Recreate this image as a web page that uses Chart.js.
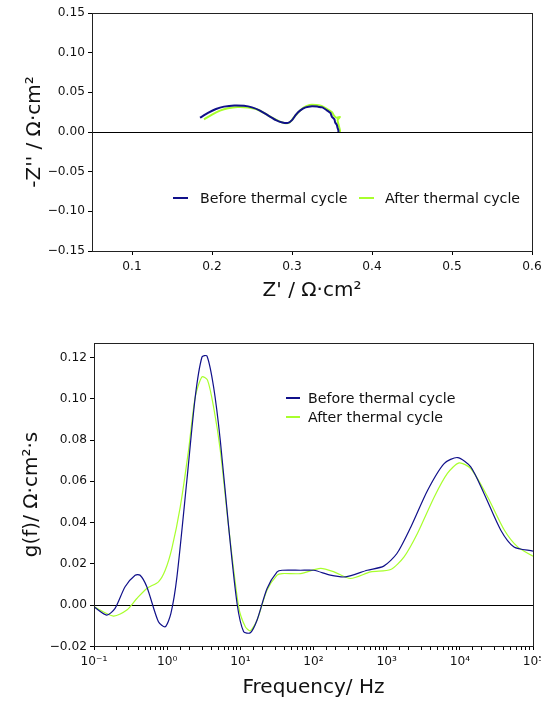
<!DOCTYPE html>
<html>
<head>
<meta charset="utf-8">
<script src="https://cdn.jsdelivr.net/npm/chart.js@4/dist/chart.umd.min.js"></script>
<style>
  html, body { margin: 0; padding: 0; background: #fff; }
  #wrap { position: relative; width: 541px; height: 702px; font-family: "DejaVu Sans", sans-serif; }
  canvas { position: absolute; left: 0; }
  .leg { position: absolute; font-size: 14.2px; color: #111; white-space: nowrap; line-height: 16px; }
  .sw { position: absolute; }
</style>
</head>
<body>
<div id="wrap">
  <canvas id="nyquist" width="541" height="320" style="top:0"></canvas>
  <canvas id="drt" width="541" height="382" style="top:320px"></canvas>
</div>
<script>
// Series names and colours
const seriesLabels = ['Before thermal cycle', 'After thermal cycle'];
const seriesColors = ['#10108a', '#a8ff2c'];

// Nyquist plot: Z' and -Z'' (Ohm cm2)
const nyqBeforeX = [0.185, 0.195, 0.205, 0.215, 0.228, 0.240, 0.250, 0.260, 0.270, 0.280, 0.288, 0.295, 0.300, 0.305, 0.310, 0.317, 0.325, 0.332, 0.338, 0.344, 0.348, 0.350, 0.353, 0.354, 0.356, 0.357, 0.358, 0.358];
const nyqBeforeY = [0.018, 0.024, 0.029, 0.032, 0.0335, 0.033, 0.031, 0.027, 0.021, 0.015, 0.012, 0.0115, 0.015, 0.022, 0.027, 0.031, 0.0325, 0.032, 0.031, 0.027, 0.024, 0.019, 0.016, 0.012, 0.009, 0.005, 0.002, 0.0];
const nyqAfterX = [0.190, 0.200, 0.210, 0.220, 0.232, 0.245, 0.255, 0.265, 0.275, 0.285, 0.292, 0.297, 0.302, 0.308, 0.315, 0.322, 0.330, 0.336, 0.342, 0.347, 0.350, 0.353, 0.356, 0.360, 0.357, 0.358, 0.359, 0.360, 0.360];
const nyqAfterY = [0.016, 0.022, 0.027, 0.030, 0.0315, 0.031, 0.029, 0.024, 0.018, 0.013, 0.011, 0.012, 0.018, 0.025, 0.031, 0.034, 0.034, 0.033, 0.030, 0.027, 0.025, 0.020, 0.018, 0.019, 0.015, 0.010, 0.006, 0.002, 0.0];
const nyqXTicks = [0.1, 0.2, 0.3, 0.4, 0.5, 0.6];
const nyqYTicks = [-0.15, -0.10, -0.05, 0.00, 0.05, 0.10, 0.15];

// DRT: frequency (Hz) and g(f)
const freqBefore = [0.1, 0.149, 0.194, 0.266, 0.365, 0.427, 0.527, 0.760, 0.940, 1.125, 1.36, 1.86, 2.42, 2.99, 3.50, 4.31, 5.32, 6.92, 9.02, 11.1, 13.7, 16.9, 23.2, 31.8, 37.2, 66.4, 101, 170, 275, 543, 912, 1380, 2140, 3630, 6100, 9330, 14100, 21400, 36300, 55000, 100000];
const drtBefore = [-0.0008, -0.0048, -0.0016, 0.0089, 0.0145, 0.0145, 0.0089, -0.0081, -0.0105, -0.0040, 0.0137, 0.0605, 0.1009, 0.1202, 0.1207, 0.1057, 0.0799, 0.0379, 0.0008, -0.0129, -0.0134, -0.0073, 0.0081, 0.0161, 0.0169, 0.0169, 0.0169, 0.0145, 0.0137, 0.0169, 0.0189, 0.0250, 0.0379, 0.0557, 0.0686, 0.0715, 0.0670, 0.0541, 0.0363, 0.0282, 0.0262];
const freqAfter = [0.1, 0.184, 0.281, 0.385, 0.527, 0.760, 0.940, 1.16, 1.51, 1.96, 2.42, 2.99, 3.56, 4.31, 5.32, 6.92, 9.48, 11.7, 13.7, 16.9, 23.2, 31.8, 37.2, 66.4, 125, 191, 321, 604, 1135, 1730, 2630, 4470, 6760, 9770, 14100, 24000, 40700, 61700, 100000];
const drtAfter = [-0.0008, -0.0053, -0.0024, 0.0032, 0.0081, 0.0113, 0.0169, 0.0275, 0.0476, 0.0751, 0.1009, 0.1106, 0.1090, 0.0960, 0.0751, 0.0379, -0.0008, -0.0105, -0.0124, -0.0073, 0.0073, 0.0145, 0.0153, 0.0153, 0.0178, 0.0161, 0.0129, 0.0161, 0.0173, 0.0234, 0.0347, 0.0524, 0.0638, 0.0689, 0.0662, 0.0524, 0.0363, 0.0282, 0.0237];
const drtYTicks = [-0.02, 0.00, 0.02, 0.04, 0.06, 0.08, 0.10, 0.12];

const FONT = 'DejaVu Sans';
const tickFont = { family: FONT, size: 12.2 };
const titleFont = { family: FONT, size: 20 };
const sup = { '-': '\u207B', '0': '\u2070', '1': '\u00B9', '2': '\u00B2', '3': '\u00B3', '4': '\u2074', '5': '\u2075' };

function zip(xs, ys) {
    return xs.map((x, i) => ({ x: x, y: ys[i] }));
}

function minusSign(v) {
    return v.toFixed(2).replace('-', '\u2212');
}

// draws the box round the plot, like matplotlib spines
const framePlugin = {
    id: 'frame',
    afterDraw(chart) {
        const { ctx, chartArea: a } = chart;
        ctx.save();
        ctx.strokeStyle = '#222';
        ctx.lineWidth = 1;
        ctx.strokeRect(Math.floor(a.left) + 0.5, Math.floor(a.top) + 0.5, Math.round(a.right - a.left), Math.round(a.bottom - a.top));
        ctx.restore();
    }
};

function zeroGrid(ctx) {
    return ctx.tick && ctx.tick.value === 0 ? '#000' : 'rgba(0,0,0,0)';
}

// Nyquist chart
new Chart(document.getElementById('nyquist'), {
    type: 'scatter',
    data: {
        datasets: [
            { label: seriesLabels[0], data: zip(nyqBeforeX, nyqBeforeY), borderColor: seriesColors[0], borderWidth: 2, showLine: true, pointRadius: 0, tension: 0.2 },
            { label: seriesLabels[1], data: zip(nyqAfterX, nyqAfterY), borderColor: seriesColors[1], borderWidth: 2, showLine: true, pointRadius: 0, tension: 0.2 }
        ]
    },
    options: {
        responsive: false,
        animation: false,
        layout: { padding: { top: 13, right: 9, left: 0, bottom: 0 } },
        plugins: { legend: { display: false }, tooltip: { enabled: false } },
        scales: {
            x: {
                type: 'linear', min: 0.05, max: 0.6,
                afterBuildTicks: s => { s.ticks = nyqXTicks.map(v => ({ value: v })); },
                afterFit: s => { s.height = 69; s.paddingRight = 0; s.paddingLeft = 0; },
                grid: { color: 'rgba(0,0,0,0)', tickColor: '#000', tickLength: 4 },
                border: { display: false },
                ticks: { font: tickFont, color: '#111', padding: 5, maxRotation: 0, autoSkip: false, callback: v => String(v) },
                title: { display: true, text: 'Z\' / \u03A9\u00B7cm\u00B2', font: titleFont, color: '#111', padding: { top: 0, bottom: 17 } }
            },
            y: {
                type: 'linear', min: -0.15, max: 0.15,
                afterBuildTicks: s => { s.ticks = nyqYTicks.map(v => ({ value: v })); },
                afterFit: s => { s.width = 92; s.paddingTop = 0; s.paddingBottom = 0; },
                grid: { color: zeroGrid, tickColor: '#000', tickLength: 4 },
                border: { display: false },
                ticks: { font: tickFont, color: '#111', padding: 3, autoSkip: false, callback: v => minusSign(v) },
                title: { display: true, text: '-Z\'\' / \u03A9\u00B7cm\u00B2', font: titleFont, color: '#111', padding: { top: 23, bottom: 0 } }
            }
        }
    },
    plugins: [framePlugin]
});

// DRT chart
new Chart(document.getElementById('drt'), {
    type: 'scatter',
    data: {
        datasets: [
            { label: seriesLabels[0], data: zip(freqBefore, drtBefore), borderColor: seriesColors[0], borderWidth: 1.2, showLine: true, pointRadius: 0, tension: 0.25 },
            { label: seriesLabels[1], data: zip(freqAfter, drtAfter), borderColor: seriesColors[1], borderWidth: 1.2, showLine: true, pointRadius: 0, tension: 0.25 }
        ]
    },
    options: {
        responsive: false,
        animation: false,
        layout: { padding: { top: 23, right: 8, left: 0, bottom: 0 } },
        plugins: { legend: { display: false }, tooltip: { enabled: false } },
        scales: {
            x: {
                type: 'logarithmic', min: 0.1, max: 100000,
                afterFit: s => { s.height = 56; s.paddingRight = 0; s.paddingLeft = 0; },
                grid: { color: 'rgba(0,0,0,0)', tickColor: '#000', tickLength: 4 },
                border: { display: false },
                ticks: {
                    font: tickFont, color: '#111', padding: 5, maxRotation: 0, autoSkip: false,
                    callback: function(value) {
                        const e = Math.log10(value);
                        if (Math.abs(e - Math.round(e)) > 1e-6) return '';
                        return '10' + String(Math.round(e)).split('').map(c => sup[c]).join('');
                    }
                },
                title: { display: true, text: 'Frequency/ Hz', font: titleFont, color: '#111', padding: { top: 0, bottom: 2 } }
            },
            y: {
                type: 'linear', min: -0.0198, max: 0.127,
                afterBuildTicks: s => { s.ticks = drtYTicks.map(v => ({ value: v })); },
                afterFit: s => { s.width = 94; s.paddingTop = 0; s.paddingBottom = 0; },
                grid: { color: zeroGrid, tickColor: '#000', tickLength: 4 },
                border: { display: false },
                ticks: { font: tickFont, color: '#111', padding: 3, autoSkip: false, callback: v => minusSign(v) },
                title: { display: true, text: 'g(f)/ \u03A9\u00B7cm\u00B2\u00B7s', font: titleFont, color: '#111', padding: { top: 20, bottom: 0 } }
            }
        }
    },
    plugins: [framePlugin]
});

// Legends inside the plot areas, as in the reference
function addLegendItem(x, y, lineW, thick, color, text, textX) {
    const wrap = document.getElementById('wrap');
    const sw = document.createElement('div');
    sw.className = 'sw';
    sw.style.left = x + 'px';
    sw.style.top = (y - thick / 2) + 'px';
    sw.style.width = lineW + 'px';
    sw.style.height = thick + 'px';
    sw.style.background = color;
    wrap.appendChild(sw);
    const t = document.createElement('div');
    t.className = 'leg';
    t.style.left = textX + 'px';
    t.style.top = (y - 8) + 'px';
    t.textContent = text;
    wrap.appendChild(t);
}

addLegendItem(173, 198, 15, 2, seriesColors[0], seriesLabels[0], 200);
addLegendItem(359, 198, 15, 2, seriesColors[1], seriesLabels[1], 385);
addLegendItem(286, 398, 14, 1.5, seriesColors[0], seriesLabels[0], 308);
addLegendItem(286, 417, 14, 1.5, seriesColors[1], seriesLabels[1], 308);
</script>
</body>
</html>
